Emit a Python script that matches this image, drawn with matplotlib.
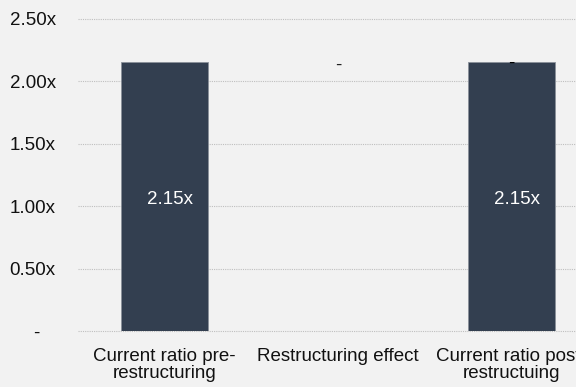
import matplotlib
matplotlib.use("Agg")
import matplotlib.pyplot as plt

# Daten
categories = ["Current ratio pre-\nrestructuring", "Restructuring effect", "Current ratio post-\nrestructuing"]
bar_values = [2.15, 0.0, 2.15]
bar_bases = [0.0, 2.15, 0.0]
bar_labels = ["2.15x", "-", "2.15x"]
y_ticks = [0, 0.5, 1.0, 1.5, 2.0, 2.5]
y_ticklabels = ["-   ", "0.50x", "1.00x", "1.50x", "2.00x", "2.50x"]

BG = "#F2F2F2"
BAR = "#333F50"

plt.rcParams["font.family"] = ["Liberation Sans", "DejaVu Sans"]

fig = plt.figure(figsize=(5.76, 3.87), dpi=100, facecolor=BG)
ax = fig.add_axes([0.1354, 0.1447, 0.9036, 0.8074])
ax.set_facecolor(BG)

x = list(range(len(categories)))
lw = [0.6 if v > 0 else 0 for v in bar_values]
ax.bar(x, bar_values, bottom=bar_bases, width=0.5, color=BAR,
       edgecolor="#8a909a", linewidth=lw, zorder=3)

# Beschriftungen
for i, (v, b, lab) in enumerate(zip(bar_values, bar_bases, bar_labels)):
    if v > 0:
        ax.text(i + 0.03, b + v / 2 - 0.02, lab, ha="center", va="center",
                color="white", fontsize=13.5, zorder=4)
    else:
        ax.text(i, b - 0.025, lab, ha="center", va="center", color="#222222",
                fontsize=13.5, zorder=4)
# kleiner Strich auf der letzten Säule
ax.text(2, bar_values[2] - 0.012, "-", ha="center", va="center",
        color="black", fontsize=13.5, zorder=4)

ax.set_xlim(-0.5, 2.5)
ax.set_ylim(0, 2.5)
ax.set_yticks(y_ticks)
ax.set_yticklabels(y_ticklabels)
ax.set_xticks(x)
ax.set_xticklabels(categories, linespacing=1.0)
ax.tick_params(axis="y", length=0, pad=16, labelsize=13.5, labelcolor="#111111")
ax.tick_params(axis="x", length=0, pad=12, labelsize=13.5, labelcolor="#111111")

ax.grid(axis="y", color="#BFBFBF", linestyle=(0, (1, 1)), linewidth=0.8, zorder=0)
for s in ax.spines.values():
    s.set_visible(False)
for gl in ax.get_ygridlines():
    gl.set_clip_on(False)

plt.savefig("out.png", dpi=100, facecolor=BG)
plt.close(fig)
